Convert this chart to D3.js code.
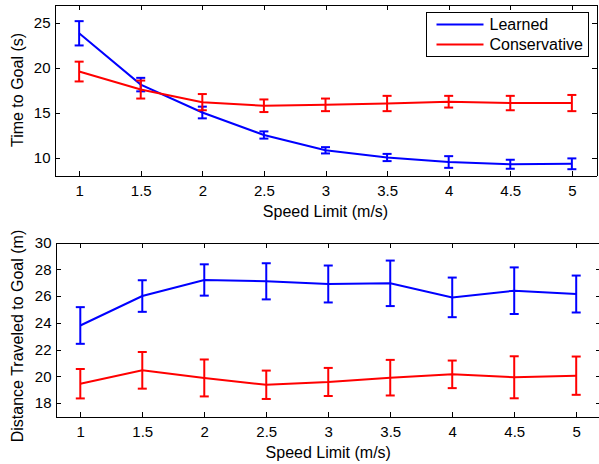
<!DOCTYPE html>
<html>
<head>
<meta charset="utf-8">
<script src="https://cdn.jsdelivr.net/npm/d3@7"></script>
<style>
  body { margin: 0; background: #fff; }
  svg { display: block; font-family: "Liberation Sans", Arial, sans-serif; }
  .axis path, .axis line { stroke: #000; stroke-width: 1; shape-rendering: crispEdges; }
  .axis text { font-size: 15px; fill: #000; }
  .axis-text { font-size: 16px; fill: #000; }
</style>
</head>
<body>
<div class="chart"></div>
<script>
// Data
var speeds = [1, 1.5, 2, 2.5, 3, 3.5, 4, 4.5, 5];
var seriesNames = ["Learned", "Conservative"];
var seriesColors = ["#0000ff", "#ff0000"];

var timeLearned = [23.8, 18.1, 15.0, 12.5, 10.8, 10.0, 9.5, 9.25, 9.3];
var timeLearnedErr = [1.35, 0.75, 0.65, 0.4, 0.35, 0.4, 0.65, 0.5, 0.6];
var timeConservative = [19.55, 17.55, 16.15, 15.75, 15.85, 16.0, 16.2, 16.05, 16.05];
var timeConservativeErr = [1.1, 1.0, 0.9, 0.7, 0.7, 0.85, 0.65, 0.8, 0.9];

var distLearned = [23.8, 26.0, 27.2, 27.1, 26.9, 26.95, 25.9, 26.4, 26.15];
var distLearnedErr = [1.37, 1.18, 1.17, 1.35, 1.38, 1.7, 1.48, 1.74, 1.38];
var distConservative = [19.45, 20.45, 19.88, 19.37, 19.58, 19.9, 20.15, 19.93, 20.05];
var distConservativeErr = [1.1, 1.37, 1.38, 1.06, 1.05, 1.33, 1.03, 1.57, 1.43];

var xTicks = [1, 1.5, 2, 2.5, 3, 3.5, 4, 4.5, 5];
var timeTicks = [10, 15, 20, 25];
var distTicks = [18, 20, 22, 24, 26, 28, 30];

var svgWidth = 599;
var svgHeight = 464;

var svg = d3
    .select('.chart')
    .append('svg')
    .attr('width', svgWidth)
    .attr('height', svgHeight);

// Draw one matlab-style panel (boxed axes, inward ticks, error bars)
function drawPanel(opts) {
    var x = d3.scaleLinear().domain([0.8, 5.2]).range(opts.xRange);
    var y = d3.scaleLinear().domain(opts.yDomain).range(opts.yRange);
    var g = svg.append('g');
    var tickLen = 5;

    // bottom and left axes with labels, inward ticks
    g.append('g')
        .attr('class', 'axis')
        .attr('transform', 'translate(0,' + opts.yRange[0] + ')')
        .call(d3.axisBottom(x).tickValues(xTicks).tickSizeInner(-tickLen).tickSizeOuter(0).tickPadding(10).tickFormat(d3.format('')));
    g.append('g')
        .attr('class', 'axis')
        .attr('transform', 'translate(' + opts.xRange[0] + ',0)')
        .call(d3.axisLeft(y).tickValues(opts.yTicks).tickSizeInner(-tickLen).tickSizeOuter(0).tickPadding(4));
    // top and right axes: ticks only
    g.append('g')
        .attr('class', 'axis')
        .attr('transform', 'translate(0,' + opts.yRange[1] + ')')
        .call(d3.axisTop(x).tickValues(xTicks).tickSizeInner(-tickLen).tickSizeOuter(0).tickFormat(''));
    g.append('g')
        .attr('class', 'axis')
        .attr('transform', 'translate(' + opts.xRange[1] + ',0)')
        .call(d3.axisRight(y).tickValues(opts.yTicks).tickSizeInner(-tickLen).tickSizeOuter(0).tickFormat(''));

    var line = d3.line()
        .x(function (d, i) { return x(speeds[i]); })
        .y(function (d) { return y(d); });

    opts.series.forEach(function (s, k) {
        var color = seriesColors[k];
        g.append('path')
            .datum(s.values)
            .attr('d', line)
            .attr('fill', 'none')
            .attr('stroke', color)
            .attr('stroke-width', 2);

        var bars = g.append('g')
            .attr('stroke', color)
            .attr('stroke-width', 2)
            .selectAll('g')
            .data(s.values)
            .enter()
            .append('g');
        var cap = 4.5;
        bars.append('line')
            .attr('x1', function (d, i) { return x(speeds[i]); })
            .attr('x2', function (d, i) { return x(speeds[i]); })
            .attr('y1', function (d, i) { return y(d + s.err[i]); })
            .attr('y2', function (d, i) { return y(d - s.err[i]); });
        bars.append('line')
            .attr('x1', function (d, i) { return x(speeds[i]) - cap; })
            .attr('x2', function (d, i) { return x(speeds[i]) + cap; })
            .attr('y1', function (d, i) { return y(d + s.err[i]); })
            .attr('y2', function (d, i) { return y(d + s.err[i]); });
        bars.append('line')
            .attr('x1', function (d, i) { return x(speeds[i]) - cap; })
            .attr('x2', function (d, i) { return x(speeds[i]) + cap; })
            .attr('y1', function (d, i) { return y(d - s.err[i]); })
            .attr('y2', function (d, i) { return y(d - s.err[i]); });
    });

    // x label
    g.append('text')
        .attr('class', 'axis-text')
        .attr('x', (x(1) + x(5)) / 2)
        .attr('y', opts.yRange[0] + 41)
        .attr('text-anchor', 'middle')
        .text('Speed Limit (m/s)');

    // y label
    g.append('text')
        .attr('class', 'axis-text')
        .attr('transform', 'translate(23,' + opts.yLabelCenter + ') rotate(-90)')
        .attr('text-anchor', 'middle')
        .text(opts.yLabel);

    return { x: x, y: y, g: g };
}

var top = drawPanel({
    xRange: [54.5, 596.5],
    yRange: [175.5, 4.5],
    yDomain: [8, 27],
    yTicks: timeTicks,
    yLabel: 'Time to Goal (s)',
    yLabelCenter: 90,
    series: [
        { values: timeLearned, err: timeLearnedErr },
        { values: timeConservative, err: timeConservativeErr }
    ]
});

drawPanel({
    xRange: [55.5, 601],
    yRange: [416.5, 242.5],
    yDomain: [17, 30],
    yTicks: distTicks,
    yLabel: 'Distance Traveled to Goal (m)',
    yLabelCenter: 336,
    series: [
        { values: distLearned, err: distLearnedErr },
        { values: distConservative, err: distConservativeErr }
    ]
});

// Legend in the top panel
var legend = svg.append('g').attr('transform', 'translate(426.5,12.5)');
legend.append('rect')
    .attr('width', 162)
    .attr('height', 44)
    .attr('fill', '#fff')
    .attr('stroke', '#000')
    .attr('stroke-width', 1);
seriesNames.forEach(function (name, k) {
    var ly = 12 + k * 20;
    legend.append('line')
        .attr('x1', 10).attr('x2', 57)
        .attr('y1', ly).attr('y2', ly)
        .attr('stroke', seriesColors[k])
        .attr('stroke-width', 2);
    legend.append('text')
        .attr('class', 'axis-text')
        .attr('x', 63)
        .attr('y', ly + 5.5)
        .text(name);
});
</script>
</body>
</html>
